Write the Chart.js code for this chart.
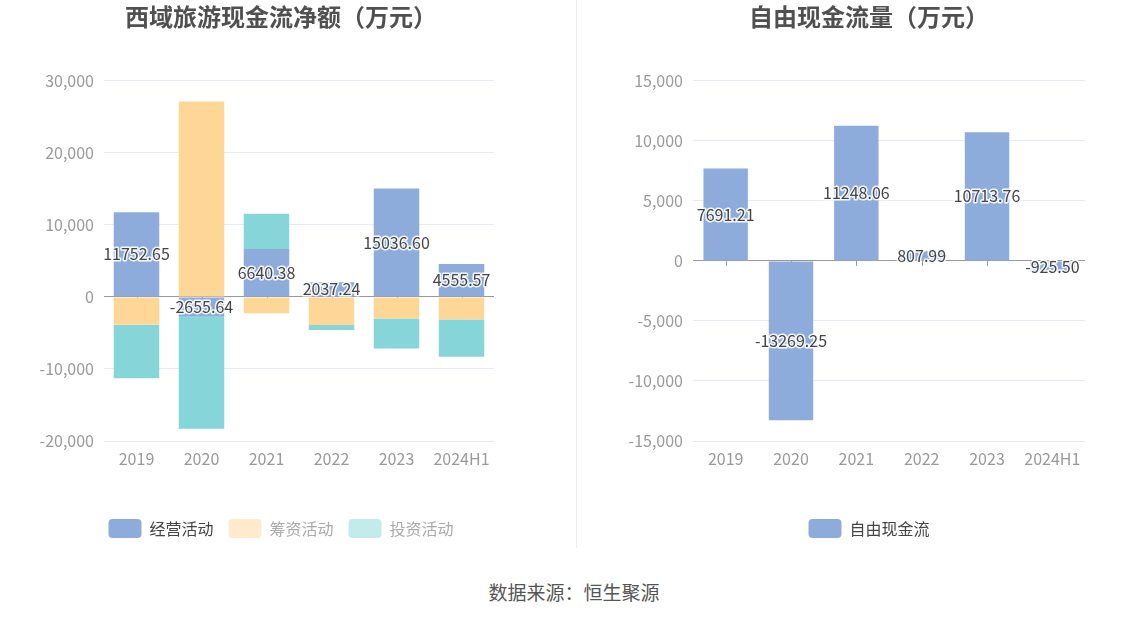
<!DOCTYPE html>
<html>
<head>
<meta charset="utf-8">
<script src="https://cdn.jsdelivr.net/npm/chart.js@4.4.1/dist/chart.umd.min.js"></script>
<style>
  body { margin: 0; background: #fff; width: 1148px; height: 619px; position: relative; overflow: hidden;
         font-family: "Noto Sans CJK SC", "Noto Sans", sans-serif; }
  #leftBox { position: absolute; left: 0; top: 0; width: 576px; height: 550px; }
  #rightBox { position: absolute; left: 577px; top: 0; width: 571px; height: 550px; }
  #divider { position: absolute; left: 576px; top: 0; width: 1px; height: 548px; background: #eeeeee; }
  #source { position: absolute; left: 0; width: 1148px; top: 578px; text-align: center; font-size: 19px; color: #555; }
</style>
</head>
<body>
<div id="leftBox"><canvas id="cashChart" width="576" height="550"></canvas></div>
<div id="divider"></div>
<div id="rightBox"><canvas id="freeChart" width="571" height="550"></canvas></div>
<div id="source">数据来源：恒生聚源</div>
<script>
// values in 万元
const years = ['2019', '2020', '2021', '2022', '2023', '2024H1'];
const operating = [11752.65, -2655.64, 6640.38, 2037.24, 15036.60, 4555.57];
const financing = [-3850, 27110, -2280, -3900, -3010, -3150];
const investing = [-7450, -15660, 4890, -700, -4150, -5160];
const freeCash = [7691.21, -13269.25, 11248.06, 807.99, 10713.76, -925.50];

const leftTicks = [30000, 20000, 10000, 0, -10000, -20000];
const rightTicks = [15000, 10000, 5000, 0, -5000, -10000, -15000];

const FONT = '"Noto Sans CJK SC", "Noto Sans", sans-serif';
const BLUE = '#8EACDB', ORANGE = '#FED797', CYAN = '#86D6D9';

// value labels in the middle of the bars
const barLabels = {
    id: 'barLabels',
    afterDatasetsDraw(chart) {
        const ctx = chart.ctx;
        ctx.save();
        ctx.font = '16px ' + FONT;
        ctx.textAlign = 'center';
        ctx.textBaseline = 'middle';
        ctx.lineJoin = 'round';
        chart.data.datasets.forEach((ds, i) => {
            if (!ds.showValue) return;
            chart.getDatasetMeta(i).data.forEach((bar, j) => {
                const txt = ds.data[j].toFixed(2);
                const y = (bar.y + bar.base) / 2;
                ctx.strokeStyle = 'rgba(255,255,255,0.9)';
                ctx.lineWidth = 3;
                ctx.strokeText(txt, bar.x, y);
                ctx.fillStyle = '#444';
                ctx.fillText(txt, bar.x, y);
            });
        });
        ctx.restore();
    }
};

// small ticks hanging under the zero line
const zeroTicks = {
    id: 'zeroTicks',
    beforeDatasetsDraw(chart) {
        const ctx = chart.ctx, xs = chart.scales.x, y0 = chart.scales.y.getPixelForValue(0);
        ctx.save();
        ctx.strokeStyle = '#999';
        ctx.lineWidth = 1;
        years.forEach((c, i) => {
            const x = Math.round(xs.getPixelForValue(i)) + 0.5;
            ctx.beginPath();
            ctx.moveTo(x, y0);
            ctx.lineTo(x, y0 + 5);
            ctx.stroke();
        });
        ctx.restore();
    }
};

// recentre title and legend horizontally
const centerBoxes = {
    id: 'centerBoxes',
    afterLayout(chart, args, opts) {
        if (chart.titleBlock) {
            chart.titleBlock.left = opts.title - 300;
            chart.titleBlock.right = opts.title + 300;
        }
        if (chart.legend) {
            chart.legend.left = opts.legend - 307;
            chart.legend.right = opts.legend + 293;
        }
    }
};

function yScale(min, max, width, ticksList) {
    return {
        stacked: true,
        min: min, max: max,
        afterBuildTicks(scale) { scale.ticks = ticksList.map(v => ({ value: v })); },
        afterFit(scale) { scale.width = width; },
        border: { display: false },
        grid: {
            color: c => c.tick && c.tick.value === 0 ? '#999' : '#E6EAF3',
            drawTicks: false
        },
        ticks: {
            color: '#999', padding: 10,
            font: { size: 16, family: FONT },
            callback: v => v.toLocaleString('en-US')
        }
    };
}

function xScale() {
    return {
        stacked: true,
        afterFit(scale) { scale.height = 63; },
        grid: { display: false, drawTicks: false },
        border: { display: false },
        ticks: { color: '#999', padding: 8, font: { size: 16, family: FONT } }
    };
}

function titleOpts(text) {
    return {
        display: true, text: text, color: '#505050',
        font: { size: 24, weight: 'bold', family: FONT },
        padding: { top: 2, bottom: 50 }
    };
}

function legendOpts(faded) {
    return {
        position: 'bottom',
        labels: {
            boxWidth: 33, boxHeight: 19, useBorderRadius: true, borderRadius: 4,
            padding: 15,
            font: { size: 16, family: FONT },
            generateLabels(chart) {
                return chart.data.datasets.map((ds, i) => ({
                    text: ds.label,
                    fillStyle: faded[i] ? ds.legendColor : ds.backgroundColor,
                    strokeStyle: 'rgba(0,0,0,0)',
                    lineWidth: 0,
                    fontColor: faded[i] ? '#aaa' : '#444',
                    borderRadius: 4,
                    datasetIndex: i
                }));
            }
        }
    };
}

new Chart(document.getElementById('cashChart'), {
    type: 'bar',
    data: {
        labels: years,
        datasets: [
            { label: '经营活动', data: operating, backgroundColor: BLUE, showValue: true },
            { label: '筹资活动', data: financing, backgroundColor: ORANGE, legendColor: '#FFEBCC' },
            { label: '投资活动', data: investing, backgroundColor: CYAN, legendColor: '#C3EBEC' }
        ]
    },
    options: {
        responsive: false,
        animation: false,
        datasets: { bar: { categoryPercentage: 1, barPercentage: 0.7 } },
        layout: { padding: { left: 0, right: 82, bottom: 2 } },
        scales: { x: xScale(), y: yScale(-20000, 30000, 104, leftTicks) },
        plugins: {
            title: titleOpts('西域旅游现金流净额（万元）'),
            legend: legendOpts([false, true, true]),
            tooltip: { enabled: false },
            centerBoxes: { title: 281, legend: 288 }
        }
    },
    plugins: [zeroTicks, barLabels, centerBoxes]
});

new Chart(document.getElementById('freeChart'), {
    type: 'bar',
    data: {
        labels: years,
        datasets: [
            { label: '自由现金流', data: freeCash, backgroundColor: BLUE, showValue: true }
        ]
    },
    options: {
        responsive: false,
        animation: false,
        datasets: { bar: { categoryPercentage: 1, barPercentage: 0.68 } },
        layout: { padding: { left: 0, right: 63, bottom: 2 } },
        scales: { x: xScale(), y: yScale(-15000, 15000, 116, rightTicks) },
        plugins: {
            title: titleOpts('自由现金流量（万元）'),
            legend: legendOpts([false]),
            tooltip: { enabled: false },
            centerBoxes: { title: 292, legend: 299 }
        }
    },
    plugins: [zeroTicks, barLabels, centerBoxes]
});
</script>
</body>
</html>
